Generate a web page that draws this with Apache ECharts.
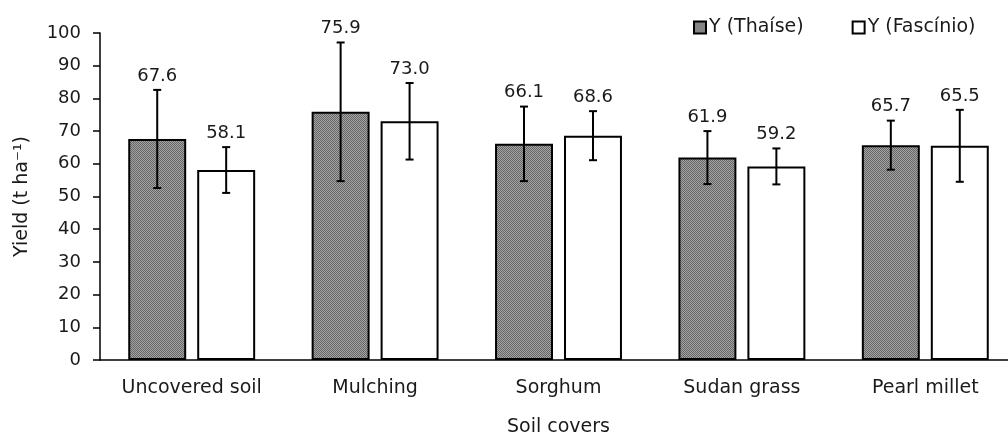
<!DOCTYPE html>
<html>
<head>
<meta charset="utf-8">
<script src="https://cdn.jsdelivr.net/npm/echarts@6/dist/echarts.min.js"></script>
<style>
html,body{margin:0;padding:0;background:#fff;}
#chart{width:1008px;height:432px;}
</style>
</head>
<body>
<div id="chart"></div>
<script>
// ---- data ----
var categories = ['Uncovered soil', 'Mulching', 'Sorghum', 'Sudan grass', 'Pearl millet'];
var thaise = [67.6, 75.9, 66.1, 61.9, 65.7];
var fascinio = [58.1, 73.0, 68.6, 59.2, 65.5];
var thaiseErr = [15.0, 21.2, 11.4, 8.1, 7.5];
var fascinioErr = [7.0, 11.7, 7.5, 5.5, 11.0];
var seriesNames = ['Y (Thaíse)', 'Y (Fascínio)'];
var yTicks = [0, 10, 20, 30, 40, 50, 60, 70, 80, 90, 100];

// ---- style ----
var FONT = 'DejaVu Sans';
var TXT = '#1a1a1a';
var BAR_FRAC = 0.316;   // bar width relative to band
var OFFSET_FRAC = 0.188; // bar centre offset relative to band

function makePattern() {
  var c = document.createElement('canvas');
  c.width = 2; c.height = 2;
  var ctx = c.getContext('2d');
  ctx.fillStyle = '#a4a4a4'; ctx.fillRect(0, 0, 2, 2);
  ctx.fillStyle = '#666666'; ctx.fillRect(0, 0, 1, 1); ctx.fillRect(1, 1, 1, 1);
  return c;
}
var pattern = { image: makePattern(), repeat: 'repeat' };

function errSeries(values, errs, sign, name) {
  return {
    type: 'custom',
    name: name + ' err',
    z: 10,
    silent: true,
    data: values.map(function (v, i) { return [i, v, errs[i]]; }),
    renderItem: function (params, api) {
      var idx = api.value(0), v = api.value(1), e = api.value(2);
      var band = api.size([1, 0])[0];
      var top = api.coord([idx, v + e]);
      var bot = api.coord([idx, v - e]);
      var x = top[0] + sign * band * OFFSET_FRAC;
      var cap = 4;
      var st = { stroke: '#000', lineWidth: 2 };
      return {
        type: 'group',
        children: [
          { type: 'line', shape: { x1: x, y1: top[1], x2: x, y2: bot[1] }, style: st },
          { type: 'line', shape: { x1: x - cap, y1: top[1], x2: x + cap, y2: top[1] }, style: st },
          { type: 'line', shape: { x1: x - cap, y1: bot[1], x2: x + cap, y2: bot[1] }, style: st },
          { type: 'text', style: { x: x, y: top[1] - 5, text: v.toFixed(1), align: 'center', verticalAlign: 'bottom',
              font: '18px "' + FONT + '"', fill: TXT } }
        ]
      };
    }
  };
}

var chart = echarts.init(document.getElementById('chart'));
chart.setOption({
  animation: false,
  backgroundColor: '#fff',
  textStyle: { fontFamily: FONT, color: TXT },
  legend: {
    left: 688, top: 13,
    itemWidth: 12, itemHeight: 12, itemGap: 48,
    icon: 'rect',
    textStyle: { fontFamily: FONT, fontSize: 19, color: TXT, padding: [0, 0, 0, -2] },
    data: seriesNames
  },
  grid: { left: 100, top: 33, width: 917, height: 327, containLabel: false, outerBoundsMode: 'none' },
  xAxis: {
    type: 'category',
    data: categories,
    name: 'Soil covers',
    nameLocation: 'middle',
    nameGap: 58,
    nameTextStyle: { fontFamily: FONT, fontSize: 19, color: TXT },
    axisLine: { lineStyle: { color: '#000', width: 1.5 } },
    axisTick: { length: 6, lineStyle: { color: '#000', width: 1.5 } },
    axisLabel: { fontFamily: FONT, fontSize: 19, color: TXT, margin: 19, interval: 0 }
  },
  yAxis: {
    type: 'value',
    min: 0, max: 100, interval: 10,
    name: 'Yield (t ha⁻¹)',
    nameLocation: 'middle',
    nameGap: 68,
    nameTextStyle: { fontFamily: FONT, fontSize: 19, color: TXT },
    axisLine: { show: true, lineStyle: { color: '#000', width: 1.5 } },
    axisTick: { show: true, length: 7, lineStyle: { color: '#000', width: 1.5 } },
    axisLabel: { fontFamily: FONT, fontSize: 18, color: TXT, margin: 19,
      formatter: function (v) { return yTicks.indexOf(v) >= 0 ? String(v) : ''; } },
    splitLine: { show: false }
  },
  series: [
    { type: 'bar', name: seriesNames[0], data: thaise, barWidth: (BAR_FRAC * 100) + '%', barGap: '19%',
      itemStyle: { color: pattern, borderColor: '#000', borderWidth: 2 } },
    { type: 'bar', name: seriesNames[1], data: fascinio, barWidth: (BAR_FRAC * 100) + '%', barGap: '19%',
      itemStyle: { color: '#fff', borderColor: '#000', borderWidth: 2 } },
    errSeries(thaise, thaiseErr, -1, seriesNames[0]),
    errSeries(fascinio, fascinioErr, 1, seriesNames[1])
  ]
});
</script>
</body>
</html>
